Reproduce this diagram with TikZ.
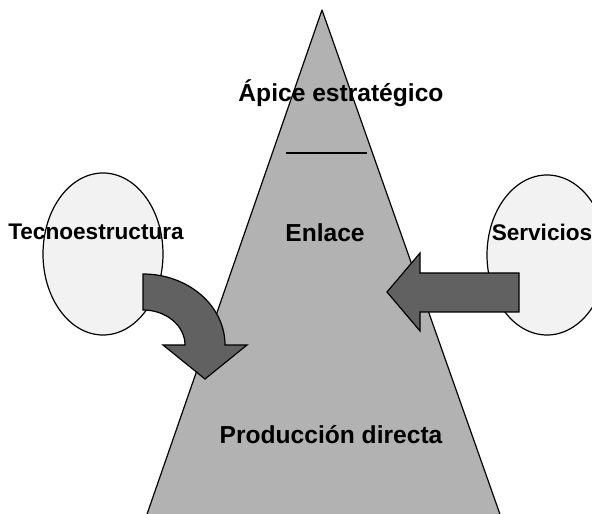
\documentclass[tikz,border=0pt]{standalone}
\usepackage{fontspec}
\setmainfont{Liberation Sans}
\usetikzlibrary{shapes.geometric}
\definecolor{pyramid}{gray}{0.70}
\definecolor{unitfill}{gray}{0.95}
\definecolor{flowfill}{gray}{0.38}
\tikzset{
  outline/.style={draw=black, line width=1.2pt, line join=round},
  unit/.style={ellipse, outline, fill=unitfill, inner sep=0pt},
  flow/.style={outline, fill=flowfill, line join=miter},
  biglabel/.style={font=\bfseries\fontsize{24.6}{28}\selectfont, anchor=base, inner sep=0pt},
  sidelabel/.style={font=\bfseries\fontsize{22.6}{26}\selectfont, anchor=base, inner sep=0pt}
}
\begin{document}
\begin{tikzpicture}[x=1pt, y=1pt]
  \clip (0,0) rectangle (592,514);
  % the pyramid
  \draw[outline, fill=pyramid] (145,-6) -- (322,504) -- (502,-6) -- cycle;
  \draw[line width=1.2pt] (286,361) -- (367,361);
  % side units
  \node[unit, minimum width=120pt, minimum height=162pt] (tecno) at (103,260) {};
  \node[unit, minimum width=120pt, minimum height=160pt] (serv) at (547,259) {};
  % curved arrow from the technostructure
  \draw[flow] (143,240) arc[start angle=90, end angle=0, x radius=82, y radius=71]
    -- (247,169) -- (205,135) -- (163,169) -- (185,169)
    arc[start angle=0, end angle=90, x radius=42, y radius=35] -- cycle;
  % straight arrow from the services
  \draw[flow] (519,241) -- (420,241) -- (420,261) -- (387,222) -- (420,183)
    -- (420,202) -- (519,202) -- cycle;
  % labels
  \node[biglabel] (apice) at (341,412) {Ápice estratégico};
  \node[biglabel] (enlace) at (325,272) {Enlace};
  \node[biglabel] (prod) at (331,70) {Producción directa};
  \node[sidelabel] (tecnolab) at (96,274) {Tecnoestructura};
  \node[sidelabel] (servlab) at (542,273) {Servicios};
\end{tikzpicture}
\end{document}
